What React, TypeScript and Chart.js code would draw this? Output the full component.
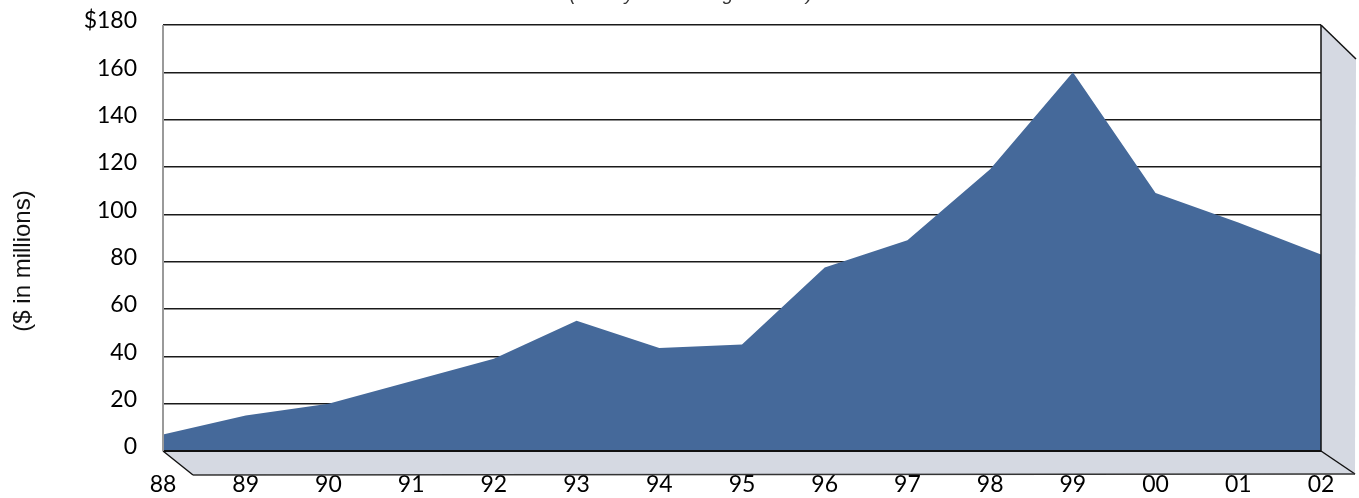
import React, { useEffect, useRef } from "react";
import { Chart, registerables } from "chart.js";

Chart.register(...registerables);

const years = ["88", "89", "90", "91", "92", "93", "94", "95", "96", "97", "98", "99", "00", "01", "02"];
const values = [7, 15, 20, 29.5, 39, 55, 43.5, 45, 77.5, 89, 119, 160, 109, 96.5, 83];
const yTicks = [0, 20, 40, 60, 80, 100, 120, 140, 160, 180];
const yTitle = "($ in millions)";
const topNote = "(fiscal years ending June 30)";

const AREA = "#45699a";
const PANEL = "#d5d9e2";
const TICK_FONT = "Lato, 'Open Sans', sans-serif";

const decor = {
  id: "decor3d",
  afterDatasetsDraw(chart: any) {
    const { ctx, chartArea } = chart;
    const L = chartArea.left, R = chartArea.right, T = chartArea.top, B = chartArea.bottom;
    ctx.save();
    ctx.beginPath();
    ctx.moveTo(L, B);
    ctx.lineTo(R, B);
    ctx.lineTo(R + 34, B + 23);
    ctx.lineTo(L + 30, B + 24);
    ctx.closePath();
    ctx.fillStyle = PANEL;
    ctx.fill();
    ctx.beginPath();
    ctx.moveTo(R, T);
    ctx.lineTo(R + 35, T + 34);
    ctx.lineTo(R + 34, B + 23);
    ctx.lineTo(R, B);
    ctx.closePath();
    ctx.fill();
    ctx.strokeStyle = "#111";
    ctx.lineWidth = 1.5;
    ctx.beginPath();
    ctx.moveTo(R, T);
    ctx.lineTo(R + 35, T + 34);
    ctx.stroke();
    ctx.beginPath();
    ctx.moveTo(R, B);
    ctx.lineTo(R + 34, B + 23);
    ctx.stroke();
    ctx.beginPath();
    ctx.moveTo(L, B);
    ctx.lineTo(L + 30, B + 24);
    ctx.stroke();
    ctx.strokeStyle = "#333";
    ctx.beginPath();
    ctx.moveTo(L + 30, B + 24);
    ctx.lineTo(R + 34, B + 23);
    ctx.stroke();
    ctx.strokeStyle = "#111";
    ctx.lineWidth = 2;
    ctx.beginPath();
    ctx.moveTo(L, B);
    ctx.lineTo(R, B);
    ctx.stroke();
    ctx.lineWidth = 1.5;
    ctx.beginPath();
    ctx.moveTo(R, T);
    ctx.lineTo(R, B);
    ctx.stroke();
    ctx.strokeStyle = "#9a9a9a";
    ctx.lineWidth = 2;
    ctx.beginPath();
    ctx.moveTo(L, T);
    ctx.lineTo(L, B);
    ctx.stroke();
    ctx.fillStyle = "#111";
    ctx.font = "24px 'Liberation Sans', Arial, sans-serif";
    ctx.textAlign = "center";
    ctx.textBaseline = "middle";
    ctx.translate(23, 261);
    ctx.rotate(-Math.PI / 2);
    ctx.fillText(yTitle, 0, 0);
    ctx.restore();
    ctx.save();
    ctx.fillStyle = "#333";
    ctx.font = "italic 19px 'Liberation Sans', Arial, sans-serif";
    ctx.textAlign = "center";
    ctx.textBaseline = "alphabetic";
    ctx.fillText(topNote, 691, 0);
    ctx.restore();
  },
};

export default function App() {
  const ref = useRef<HTMLCanvasElement | null>(null);
  useEffect(() => {
    if (!ref.current) return;
    const chart = new Chart(ref.current, {
      type: "line",
      data: {
        labels: years,
        datasets: [
          {
            data: values,
            fill: "origin",
            backgroundColor: AREA,
            borderColor: AREA,
            borderWidth: 0,
            pointRadius: 0,
            tension: 0,
          },
        ],
      },
      options: {
        responsive: false,
        maintainAspectRatio: false,
        animation: false,
        devicePixelRatio: 1,
        layout: { padding: { left: 0, right: 38, top: 25, bottom: 0 } },
        plugins: { legend: { display: false }, tooltip: { enabled: false }, title: { display: false } },
        scales: {
          x: {
            type: "category",
            offset: false,
            grid: { display: false, drawTicks: false },
            border: { display: false },
            ticks: {
              color: "#000",
              font: { family: TICK_FONT, size: 23 },
              padding: 20,
              maxRotation: 0,
              autoSkip: false,
            },
            afterFit: (s: any) => {
              s.height = 47;
              s.paddingLeft = 0;
              s.paddingRight = 0;
            },
          },
          y: {
            min: 0,
            max: 180,
            afterBuildTicks: (s: any) => {
              s.ticks = yTicks.map((v) => ({ value: v }));
            },
            grid: { color: "#1a1a1a", lineWidth: 1.5, drawTicks: false },
            border: { display: false },
            ticks: {
              color: "#000",
              font: { family: TICK_FONT, size: 23 },
              padding: 26,
              labelOffset: -4,
              callback: (v: any) => (Number(v) === 180 ? "$180" : String(v)),
            },
            afterFit: (s: any) => {
              s.width = 163;
              s.paddingTop = 0;
              s.paddingBottom = 0;
            },
          },
        },
      },
      plugins: [decor],
    });
    return () => chart.destroy();
  }, []);
  return (
    <div style={{ position: "fixed", left: 0, top: 0, width: 1359, height: 498, background: "#fff" }}>
      <canvas ref={ref} width={1359} height={498} style={{ display: "block" }} />
    </div>
  );
}
